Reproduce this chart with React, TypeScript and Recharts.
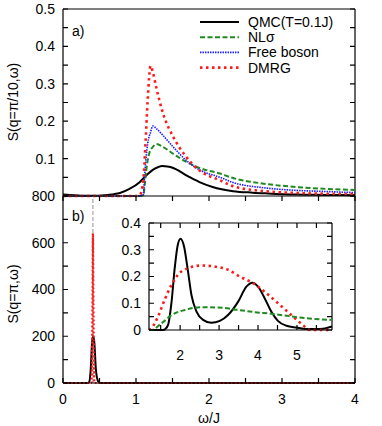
import React from "react";
import { LineChart, Line, XAxis, YAxis, ReferenceLine, Legend } from "recharts";

const FONT = "'Liberation Sans', Arial, Helvetica, sans-serif";
const GREEN = "#1f8a1f";
const BLUE = "#1c1cff";
const RED = "#ff1a1a";

// ---- panel a) S(q=pi/10, w) ----
const qmcAW = [0, 0.1, 0.25, 0.4, 0.5, 0.6, 0.7, 0.78, 0.91, 1.05, 1.14, 1.23, 1.3, 1.36, 1.43, 1.51, 1.6, 1.69, 1.78, 1.87, 2.05, 2.33, 2.6, 2.8, 3.2, 3.6, 4];
const qmcAS = [0.004, 0.003, 0.001, 0.001, 0.001, 0.003, 0.005, 0.008, 0.019, 0.037, 0.055, 0.07, 0.077, 0.08, 0.079, 0.075, 0.066, 0.055, 0.046, 0.037, 0.024, 0.013, 0.009, 0.007, 0.004, 0.003, 0.002];

const nlsAW = [0, 0.5, 1.0, 1.1, 1.12, 1.14, 1.18, 1.23, 1.28, 1.37, 1.51, 1.69, 1.87, 2.15, 2.33, 2.75, 3.2, 3.6, 4];
const nlsAS = [0, 0, 0, 0.002, 0.03, 0.068, 0.113, 0.131, 0.139, 0.131, 0.113, 0.091, 0.075, 0.06, 0.048, 0.033, 0.024, 0.019, 0.016];

const bosAW = [0, 0.5, 1.0, 1.1, 1.12, 1.16, 1.2, 1.23, 1.28, 1.37, 1.51, 1.69, 1.87, 2.15, 2.33, 2.75, 3.2, 3.6, 4];
const bosAS = [0, 0, 0, 0.002, 0.06, 0.14, 0.171, 0.187, 0.18, 0.162, 0.131, 0.095, 0.07, 0.05, 0.036, 0.022, 0.015, 0.012, 0.009];

const dmrgAW = [0, 0.5, 1.0, 1.05, 1.1, 1.13, 1.16, 1.2, 1.23, 1.28, 1.37, 1.51, 1.69, 1.87, 2.15, 2.33, 2.75, 3.2, 3.6, 4];
const dmrgAS = [0, 0, 0, 0.002, 0.042, 0.14, 0.256, 0.348, 0.332, 0.288, 0.221, 0.158, 0.104, 0.068, 0.042, 0.026, 0.013, 0.008, 0.006, 0.005];

// ---- panel b) S(q=pi, w) ----
const qmcBW = [0, 0.33, 0.36, 0.38, 0.4, 0.415, 0.43, 0.45, 0.48, 0.51, 1, 2, 3, 4];
const qmcBS = [0, 0, 5, 60, 180, 200, 170, 60, 8, 0, 0, 0, 0, 0];

const dmrgBW = [0, 0.39, 0.405, 0.41, 0.415, 0.43, 1, 2, 3, 4];
const dmrgBS = [0, 0, 400, 640, 400, 0, 0, 0, 0, 0];

const magnonW = 0.41;

// ---- inset of b) ----
const qmcIW = [1.2, 1.4, 1.56, 1.62, 1.69, 1.78, 1.86, 1.94, 2.01, 2.1, 2.19, 2.29, 2.42, 2.59, 2.8, 3.02, 3.23, 3.49, 3.7, 3.86, 4.0, 4.17, 4.34, 4.51, 4.73, 4.99, 5.24, 5.5, 5.67, 5.9];
const qmcIS = [0, 0, 0, 0.004, 0.019, 0.106, 0.231, 0.319, 0.341, 0.312, 0.231, 0.131, 0.069, 0.038, 0.027, 0.034, 0.056, 0.106, 0.162, 0.177, 0.162, 0.119, 0.069, 0.034, 0.016, 0.009, 0.004, 0.004, 0.005, 0.013];

const dmrgIW = [1.2, 1.26, 1.43, 1.6, 1.78, 1.94, 2.2, 2.55, 2.89, 3.23, 3.53, 3.87, 4.21, 4.56, 4.9, 5.15, 5.33, 5.6, 5.9];
const dmrgIS = [0, 0.006, 0.05, 0.112, 0.169, 0.206, 0.231, 0.241, 0.237, 0.225, 0.2, 0.175, 0.138, 0.094, 0.05, 0.019, 0, 0, 0];

const nlsIW = [1.2, 1.26, 1.52, 1.78, 2.12, 2.55, 2.97, 3.49, 3.9, 4.38, 4.8, 5.24, 5.6, 5.9];
const nlsIS = [0, 0, 0.025, 0.056, 0.075, 0.085, 0.084, 0.075, 0.067, 0.06, 0.052, 0.044, 0.04, 0.0375];

// ---- ticks ----
const mainXTicks = [0, 0.5, 1, 1.5, 2, 2.5, 3, 3.5, 4];
const aYTicks = [0, 0.05, 0.1, 0.15, 0.2, 0.25, 0.3, 0.35, 0.4, 0.45, 0.5];
const aYLabels = [0.1, 0.2, 0.3, 0.4, 0.5];
const bYTicks = [0, 100, 200, 300, 400, 500, 600, 700, 800];
const bYLabels = [0, 200, 400, 600, 800];
const bXLabels = [0, 1, 2, 3, 4];
const insetXTicks = [1.5, 2, 2.5, 3, 3.5, 4, 4.5, 5, 5.5];
const insetXLabels = [2, 3, 4, 5];
const insetYTicks = [0, 0.05, 0.1, 0.15, 0.2, 0.25, 0.3, 0.35, 0.4];
const insetYLabels = [0, 0.1, 0.2, 0.3, 0.4];

const zip = (w: number[], s: number[]) => w.map((x, i) => ({ x, y: s[i] }));

const styles = {
  qmc: { stroke: "#000", strokeWidth: 2, strokeDasharray: undefined as string | undefined },
  nls: { stroke: GREEN, strokeWidth: 2, strokeDasharray: "5 2.5" },
  bos: { stroke: BLUE, strokeWidth: 1.6, strokeDasharray: "1.5 1" },
  dmrg: { stroke: RED, strokeWidth: 2.6, strokeDasharray: "2.5 3.5" },
};

const legendRows = [
  { label: "QMC(T=0.1J)", st: styles.qmc },
  { label: "NLσ", st: styles.nls },
  { label: "Free boson", st: styles.bos },
  { label: "DMRG", st: styles.dmrg },
];

const TICK = 5;

// gnuplot-like ticks pointing into the plot, mirrored on the opposite side.
// span = plot width (for y ticks) or plot height (for x ticks)
function yTick(labels: number[], span: number) {
  return (props: any) => {
    const x = Number(props.x);
    const y = Number(props.y);
    const v = props.payload.value;
    const show = labels.some((l) => Math.abs(l - v) < 1e-9);
    return (
      <g>
        <path d={`M${x},${y}h${TICK}M${x + span},${y}h${-TICK}`} stroke="#000" strokeWidth={1.2} fill="none" />
        {show ? (
          <text x={x - 8} y={y} dy="0.35em" textAnchor="end" fontFamily={FONT} fontSize={14} fill="#000">{String(v)}</text>
        ) : null}
      </g>
    );
  };
}

function xTick(labels: number[], span: number, gap: number) {
  return (props: any) => {
    const x = Number(props.x);
    const y = Number(props.y);
    const v = props.payload.value;
    const show = labels.some((l) => Math.abs(l - v) < 1e-9);
    return (
      <g>
        <path d={`M${x},${y}v${-TICK}M${x},${y - span}v${TICK}`} stroke="#000" strokeWidth={1.2} fill="none" />
        {show ? (
          <text x={x} y={y + gap} dy="0.35em" textAnchor="middle" fontFamily={FONT} fontSize={14} fill="#000">{String(v)}</text>
        ) : null}
      </g>
    );
  };
}

const axisCommon = {
  tickLine: false,
  tickSize: 0,
  tickMargin: 0,
  interval: 0 as const,
  axisLine: { stroke: "#000", strokeWidth: 1.2 },
};

function series(key: string, data: { x: number; y: number }[], st: any) {
  return (
    <Line
      key={key}
      data={data}
      dataKey="y"
      type="monotone"
      dot={false}
      activeDot={false}
      isAnimationActive={false}
      stroke={st.stroke}
      strokeWidth={st.strokeWidth}
      strokeDasharray={st.strokeDasharray}
    />
  );
}

function LegendBox() {
  return (
    <svg width={170} height={66} style={{ overflow: "visible" }}>
      {legendRows.map((r, i) => {
        const y = 8 + i * 15.2;
        return (
          <g key={r.label}>
            <line x1={5} x2={44} y1={y} y2={y} stroke={r.st.stroke} strokeWidth={r.st.strokeWidth} strokeDasharray={r.st.strokeDasharray} />
            <text x={53} y={y} dy="0.35em" fontFamily={FONT} fontSize={14} fill="#000">{r.label}</text>
          </g>
        );
      })}
    </svg>
  );
}

const frame = { stroke: "#000", strokeWidth: 1.2 };

export default function App() {
  return (
    <div style={{ position: "absolute", left: 0, top: 0, width: 382, height: 426, background: "#fff", overflow: "hidden" }}>
      {/* panel a */}
      <div style={{ position: "absolute", left: 0, top: 0 }}>
        <LineChart width={382} height={200} margin={{ top: 9, right: 27, bottom: 4, left: 0 }}>
          <XAxis dataKey="x" type="number" domain={[0, 4]} ticks={mainXTicks} height={0} tick={xTick([], 187, 0)} {...axisCommon} />
          <YAxis type="number" domain={[0, 0.5]} ticks={aYTicks} width={63} tick={yTick(aYLabels, 292)} {...axisCommon} />
          <ReferenceLine y={0.5} {...frame} />
          <ReferenceLine x={4} {...frame} />
          {series("qmc", zip(qmcAW, qmcAS), styles.qmc)}
          {series("nls", zip(nlsAW, nlsAS), styles.nls)}
          {series("bos", zip(bosAW, bosAS), styles.bos)}
          {series("dmrg", zip(dmrgAW, dmrgAS), styles.dmrg)}
          <Legend
            layout="horizontal"
            verticalAlign="middle"
            align="center"
            wrapperStyle={{ top: 14, left: 195, width: 170, height: 66 }}
            content={() => <LegendBox />}
          />
        </LineChart>
      </div>

      {/* panel b */}
      <div style={{ position: "absolute", left: 0, top: 0 }}>
        <LineChart width={382} height={426} margin={{ top: 196, right: 27, bottom: 0, left: 0 }}>
          <XAxis dataKey="x" type="number" domain={[0, 4]} ticks={mainXTicks} height={43} tick={xTick(bXLabels, 187, 16)} {...axisCommon} />
          <YAxis type="number" domain={[0, 800]} ticks={bYTicks} width={63} tick={yTick(bYLabels, 292)} {...axisCommon} />
          <ReferenceLine y={800} {...frame} />
          <ReferenceLine x={4} {...frame} />
          <ReferenceLine x={magnonW} stroke="#777" strokeWidth={0.8} strokeDasharray="4 2" />
          {series("qmc", zip(qmcBW, qmcBS), styles.qmc)}
          {series("dmrg", zip(dmrgBW, dmrgBS), { ...styles.dmrg, strokeWidth: 2.2, strokeDasharray: "2 2" })}
        </LineChart>
      </div>

      {/* inset */}
      <div style={{ position: "absolute", left: 100, top: 210 }}>
        <LineChart width={240} height={160} margin={{ top: 13, right: 8, bottom: 0, left: 0 }}>
          <XAxis dataKey="x" type="number" domain={[1.2, 5.9]} ticks={insetXTicks} height={40} tick={xTick(insetXLabels, 107, 25)} {...axisCommon} />
          <YAxis type="number" domain={[0, 0.4]} ticks={insetYTicks} width={49} tick={yTick(insetYLabels, 183)} {...axisCommon} />
          <ReferenceLine y={0.4} {...frame} />
          <ReferenceLine x={5.9} {...frame} />
          {series("qmc", zip(qmcIW, qmcIS), styles.qmc)}
          {series("dmrg", zip(dmrgIW, dmrgIS), styles.dmrg)}
          {series("nls", zip(nlsIW, nlsIS), styles.nls)}
        </LineChart>
      </div>

      {/* text overlay */}
      <svg width={382} height={426} style={{ position: "absolute", left: 0, top: 0, pointerEvents: "none" }}>
        <g fontFamily={FONT} fontSize={14} fill="#000">
          <text x={72} y={31} dy="0.35em">a)</text>
          <text x={72} y={216} dy="0.35em">b)</text>
          <text x={209} y={418} dy="0.35em" textAnchor="middle">ω/J</text>
          <text transform="translate(13,102) rotate(-90)" dy="0.35em" textAnchor="middle">S(q=π/10,ω)</text>
          <text transform="translate(13,294) rotate(-90)" dy="0.35em" textAnchor="middle">S(q=π,ω)</text>
        </g>
      </svg>
    </div>
  );
}
